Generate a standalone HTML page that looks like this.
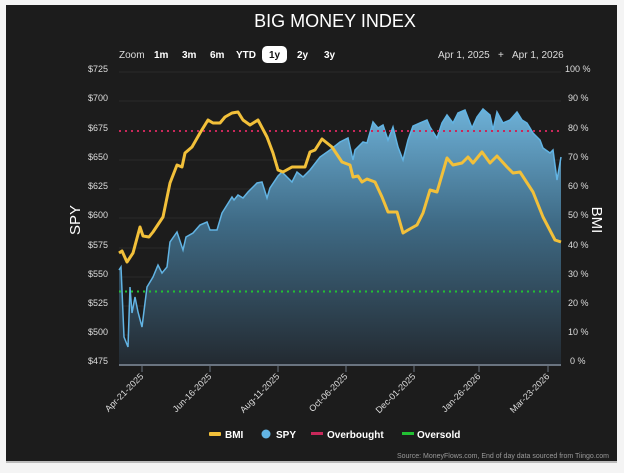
<!DOCTYPE html>
<html><head><style>
body{margin:0;background:#f4f4f4;width:624px;height:473px;overflow:hidden}
svg{display:block;font-family:"Liberation Sans",sans-serif}
</style></head><body>
<svg width="624" height="473" viewBox="0 0 624 473">
<defs>
<linearGradient id="g" x1="0" y1="105" x2="0" y2="365" gradientUnits="userSpaceOnUse">
<stop offset="0" stop-color="#6fb3da"/><stop offset="0.45" stop-color="#3f6b86"/><stop offset="1" stop-color="#232a31"/>
</linearGradient>
</defs>
<rect x="6" y="5" width="611" height="457" fill="#1c1c1c"/>
<rect x="6" y="461" width="611" height="2" fill="#bbb"/>
<text x="335" y="27" fill="#fff" font-size="18" text-anchor="middle">BIG MONEY INDEX</text>
<g font-size="10" fill="#ddd">
<text x="119" y="58">Zoom</text>
<g font-weight="bold" fill="#fff"><text x="154" y="58">1m</text><text x="182" y="58">3m</text><text x="210" y="58">6m</text><text x="236" y="58">YTD</text>
<rect x="262" y="46" width="25" height="17" rx="5" fill="#fff"/><text x="269" y="58" fill="#111">1y</text>
<text x="297" y="58">2y</text><text x="324" y="58">3y</text></g>
<text x="438" y="58">Apr 1, 2025</text><text x="498" y="58">+</text><text x="512" y="58">Apr 1, 2026</text>
</g>
<g stroke="#2a2a2a" stroke-width="1">
<line x1="119" y1="72" x2="561" y2="72"/><line x1="119" y1="101" x2="561" y2="101"/><line x1="119" y1="160" x2="561" y2="160"/><line x1="119" y1="189" x2="561" y2="189"/><line x1="119" y1="218" x2="561" y2="218"/><line x1="119" y1="248" x2="561" y2="248"/><line x1="119" y1="277" x2="561" y2="277"/><line x1="119" y1="306" x2="561" y2="306"/><line x1="119" y1="335" x2="561" y2="335"/>
</g>
<g font-size="9" fill="#ddd" text-anchor="end">
<text x="108" y="72">$725</text><text x="108" y="101">$700</text><text x="108" y="131">$675</text><text x="108" y="160">$650</text><text x="108" y="189">$625</text><text x="108" y="218">$600</text><text x="108" y="248">$575</text><text x="108" y="277">$550</text><text x="108" y="306">$525</text><text x="108" y="335">$500</text><text x="108" y="364">$475</text>
</g>
<g font-size="9" fill="#ddd">
<text x="565" y="72">100 %</text><text x="568" y="101">90 %</text><text x="568" y="131">80 %</text><text x="568" y="160">70 %</text><text x="568" y="189">60 %</text><text x="568" y="218">50 %</text><text x="568" y="248">40 %</text><text x="568" y="277">30 %</text><text x="568" y="306">20 %</text><text x="568" y="335">10 %</text><text x="570" y="364">0 %</text>
</g>
<text transform="translate(80,220) rotate(-90)" fill="#fff" font-size="15" text-anchor="middle">SPY</text>
<text transform="translate(592,220) rotate(90)" fill="#fff" font-size="15" text-anchor="middle">BMI</text>
<polygon fill="url(#g)" points="119,365 119,270 121,267 124,337 128,347 130,287 132,313 135,297 138,312 142,327 147,287 153,277 158,265 162,273 167,267 170,242 177,232 183,250 186,237 193,233 200,225 207,222 210,230 217,230 222,213 232,197 234,200 238,195 243,198 248,192 257,183 262,182 267,198 270,188 278,176 282,172 292,182 297,172 303,177 310,170 320,157 330,150 340,142 348,138 353,160 355,150 363,142 367,143 373,122 378,128 383,125 388,140 393,127 398,147 403,160 408,140 413,126 420,123 427,120 430,127 437,138 442,123 447,115 453,123 458,113 465,110 472,128 477,117 483,109 490,115 493,130 497,112 503,123 510,120 517,112 522,120 527,123 533,133 540,140 543,148 550,153 553,150 557,180 561,157 561,365"/>
<polyline fill="none" stroke="#62b4e4" stroke-width="1.5" points="119,270 121,267 124,337 128,347 130,287 132,313 135,297 138,312 142,327 147,287 153,277 158,265 162,273 167,267 170,242 177,232 183,250 186,237 193,233 200,225 207,222 210,230 217,230 222,213 232,197 234,200 238,195 243,198 248,192 257,183 262,182 267,198 270,188 278,176 282,172 292,182 297,172 303,177 310,170 320,157 330,150 340,142 348,138 353,160 355,150 363,142 367,143 373,122 378,128 383,125 388,140 393,127 398,147 403,160 408,140 413,126 420,123 427,120 430,127 437,138 442,123 447,115 453,123 458,113 465,110 472,128 477,117 483,109 490,115 493,130 497,112 503,123 510,120 517,112 522,120 527,123 533,133 540,140 543,148 550,153 553,150 557,180 561,157"/>
<line x1="119" y1="131" x2="561" y2="131" stroke="#c8285a" stroke-width="2" stroke-dasharray="2,4"/>
<line x1="119" y1="291.5" x2="561" y2="291.5" stroke="#22c033" stroke-width="2" stroke-dasharray="2,4"/>
<polyline fill="none" stroke="#f2c03a" stroke-width="3" stroke-linejoin="round" points="119,253 122,251 127,262 133,253 140,227 143,236 149,237 153,232 163,217 170,183 177,165 182,167 185,153 192,147 200,133 208,120 213,123 220,123 225,117 232,113 238,112 243,120 250,125 258,120 267,137 273,153 278,170 283,172 292,167 305,167 310,152 315,150 322,139 332,147 342,162 350,165 353,177 358,176 362,182 367,179 375,182 382,197 388,212 397,212 403,233 408,230 417,225 423,213 430,190 437,192 447,158 453,165 462,163 468,157 473,163 482,152 490,163 497,156 507,167 513,173 520,172 533,192 543,217 555,240 561,242"/>
<line x1="119" y1="365" x2="561" y2="365" stroke="#6a7480" stroke-width="2"/>
<g stroke="#6a7480" stroke-width="1"><line x1="142" y1="365" x2="142" y2="372"/><line x1="210" y1="365" x2="210" y2="372"/><line x1="278" y1="365" x2="278" y2="372"/><line x1="346" y1="365" x2="346" y2="372"/><line x1="414" y1="365" x2="414" y2="372"/><line x1="479" y1="365" x2="479" y2="372"/><line x1="548" y1="365" x2="548" y2="372"/></g>
<g font-size="9" fill="#ddd" text-anchor="end">
<text transform="translate(144,377) rotate(-45)">Apr-21-2025</text>
<text transform="translate(212,377) rotate(-45)">Jun-16-2025</text>
<text transform="translate(280,377) rotate(-45)">Aug-11-2025</text>
<text transform="translate(348,377) rotate(-45)">Oct-06-2025</text>
<text transform="translate(416,377) rotate(-45)">Dec-01-2025</text>
<text transform="translate(481,377) rotate(-45)">Jan-26-2026</text>
<text transform="translate(550,377) rotate(-45)">Mar-23-2026</text>
</g>
<g font-size="10" font-weight="bold" fill="#fff">
<rect x="209" y="432" width="12" height="4" rx="1" fill="#f2c03a"/><text x="225" y="438">BMI</text>
<circle cx="266" cy="434" r="4.5" fill="#62b4e4"/><text x="276" y="438">SPY</text>
<rect x="311" y="432" width="12" height="3" fill="#c8285a"/><text x="327" y="438">Overbought</text>
<rect x="402" y="432" width="12" height="3" fill="#22c033"/><text x="417" y="438">Oversold</text>
</g>
<text x="609" y="458" font-size="7" fill="#999" text-anchor="end">Source: MoneyFlows.com, End of day data sourced from Tiingo.com</text>
</svg>
</body></html>
